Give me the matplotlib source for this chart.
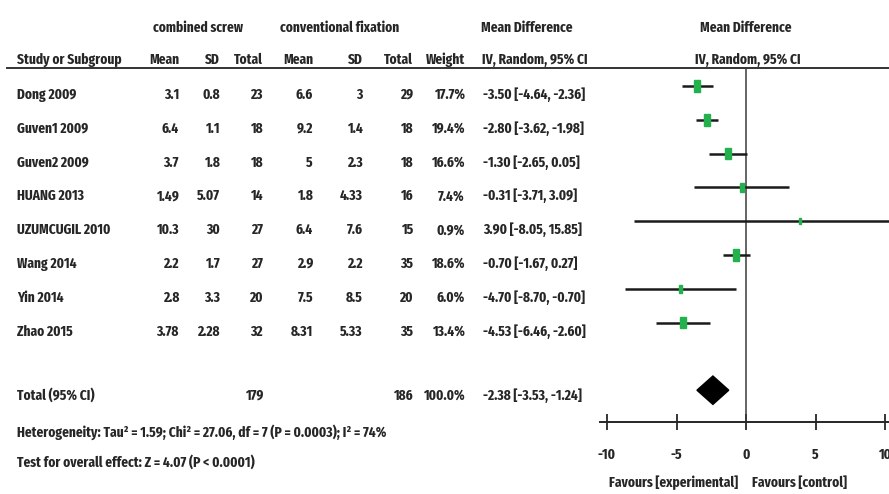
import numpy as np
import matplotlib
matplotlib.use('Agg')
import matplotlib.pyplot as plt
from matplotlib import font_manager as fm
from matplotlib.patches import Rectangle, Polygon

# data
studies = ['Dong 2009', 'Guven1 2009', 'Guven2 2009', 'HUANG 2013',
           'UZUMCUGIL 2010', 'Wang 2014', 'Yin 2014', 'Zhao 2015']
exp_mean = ['3.1', '6.4', '3.7', '1.49', '10.3', '2.2', '2.8', '3.78']
exp_sd = ['0.8', '1.1', '1.8', '5.07', '30', '1.7', '3.3', '2.28']
exp_n = [23, 18, 18, 14, 27, 27, 20, 32]
ctl_mean = ['6.6', '9.2', '5', '1.8', '6.4', '2.9', '7.5', '8.31']
ctl_sd = ['3', '1.4', '2.3', '4.33', '7.6', '2.2', '8.5', '5.33']
ctl_n = [29, 18, 18, 16, 15, 35, 20, 35]
weight = [17.7, 19.4, 16.6, 7.4, 0.9, 18.6, 6.0, 13.4]
md = [-3.50, -2.80, -1.30, -0.31, 3.90, -0.70, -4.70, -4.53]
lo = [-4.64, -3.62, -2.65, -3.71, -8.05, -1.67, -8.70, -6.46]
hi = [-2.36, -1.98, 0.05, 3.09, 15.85, 0.27, -0.70, -2.60]
total_md, total_lo, total_hi = -2.38, -3.53, -1.24
xticks = [-10, -5, 0, 5, 10]
het_text = 'Heterogeneity: Tau² = 1.59; Chi² = 27.06, df = 7 (P = 0.0003); I² = 74%'
test_text = 'Test for overall effect: Z = 4.07 (P < 0.0001)'

W, H = 889, 494

# pick a narrow font if one is there
installed = {f.name for f in fm.fontManager.ttflist}
font = 'Liberation Sans'
for cand in ['Arial Narrow', 'Liberation Sans Narrow', 'Fira Sans Extra Condensed',
             'Roboto Condensed', 'PT Sans Narrow', 'Archivo Narrow']:
    if cand in installed:
        font = cand
        break
plt.rcParams['font.family'] = [font, 'DejaVu Sans']
wt = 'bold'

fig = plt.figure(figsize=(W / 100, H / 100), dpi=100)
ax = fig.add_axes([0, 0, 1, 1])
ax.set_xlim(0, W)
ax.set_ylim(H, 0)
ax.axis('off')

# scale the font so the heterogeneity line is as wide as in the reference
probe = ax.text(0, 0, het_text, fontsize=10, fontweight=wt)
rend = fig.canvas.get_renderer()
fs = 10 * 371 / probe.get_window_extent(rend).width
probe.remove()

col = '#262626'
txt = dict(fontsize=fs, fontweight=wt, color=col, va='baseline')

def t(x, y, s, ha='left'):
    ax.text(x, y, s, ha=ha, **txt)

# header
t(198, 32, 'combined screw', 'center')
t(340, 32, 'conventional fixation', 'center')
t(527, 32, 'Mean Difference', 'center')
t(746, 32, 'Mean Difference', 'center')
hy = 64
t(17, hy, 'Study or Subgroup')
for x, s in [(179, 'Mean'), (220, 'SD'), (263, 'Total'), (313, 'Mean'),
             (363, 'SD'), (413, 'Total'), (465, 'Weight')]:
    t(x, hy, s, 'right')
t(482, hy, 'IV, Random, 95% CI')
t(748, hy, 'IV, Random, 95% CI', 'center')
ax.plot([7, W], [68, 68], color='#333333', lw=1.4)

# study rows
row0, dy = 86, 33.8
base0 = 99
for i, name in enumerate(studies):
    y = base0 + i * dy
    t(17, y, name)
    t(179, y, exp_mean[i], 'right')
    t(220, y, exp_sd[i], 'right')
    t(263, y, str(exp_n[i]), 'right')
    t(313, y, ctl_mean[i], 'right')
    t(363, y, ctl_sd[i], 'right')
    t(413, y, str(ctl_n[i]), 'right')
    t(465, y, '%.1f%%' % weight[i], 'right')
    t(483, y, '%.2f [%.2f, %.2f]' % (md[i], lo[i], hi[i]))

ty = 400
t(17, ty, 'Total (95% CI)')
t(263, ty, str(sum(exp_n)), 'right')
t(413, ty, str(sum(ctl_n)), 'right')
t(465, ty, '%.1f%%' % sum(weight), 'right')
t(483, ty, '%.2f [%.2f, %.2f]' % (total_md, total_lo, total_hi))
t(17, 437, het_text)
t(17, 467, test_text)
t(738, 487, 'Favours [experimental]', 'right')
t(752, 487, 'Favours [control]')

# forest axes
px_per_unit = 13.9
x_left_px, zero_px = 600, 746
y_top_px, y_axis_px = 68, 422
xmin = (x_left_px - zero_px) / px_per_unit
xmax = (W - zero_px) / px_per_unit
fax = fig.add_axes([x_left_px / W, 1 - y_axis_px / H,
                    (W - x_left_px) / W, (y_axis_px - y_top_px) / H])
fax.set_xlim(xmin, xmax)
fax.set_ylim((y_axis_px - row0) / dy, (y_top_px - row0) / dy)
fax.patch.set_alpha(0)
for s in ['top', 'right', 'left']:
    fax.spines[s].set_visible(False)
fax.spines['bottom'].set_color(col)
fax.spines['bottom'].set_linewidth(1.4)
fax.set_yticks([])
fax.set_xticks(xticks)
fax.set_xticklabels([str(v) for v in xticks], fontsize=fs,
                    fontweight=wt, color=col)
fax.tick_params(axis='x', direction='inout', length=11, width=1.3,
                color=col, pad=13)
fax.axvline(0, color='#3a3a3a', lw=1.1)

rows = np.arange(len(studies))
fax.hlines(rows, lo, hi, color='#1a1a1a', lw=1.8, zorder=3)
for i in rows:
    sw = max(2.0, 1.4 * np.sqrt(weight[i])) / px_per_unit
    sh = (4.5 + 1.6 * np.sqrt(weight[i])) / dy
    fax.add_patch(Rectangle((md[i] - sw / 2, i - sh / 2), sw, sh,
                            color='#22b14c', zorder=4))

total_row = len(studies) + 1
dh = 0.42
fax.add_patch(Polygon([(total_lo, total_row), (total_md, total_row - dh),
                       (total_hi, total_row), (total_md, total_row + dh)],
                      closed=True, color='black', zorder=4))

fig.savefig('out.png', dpi=100)
